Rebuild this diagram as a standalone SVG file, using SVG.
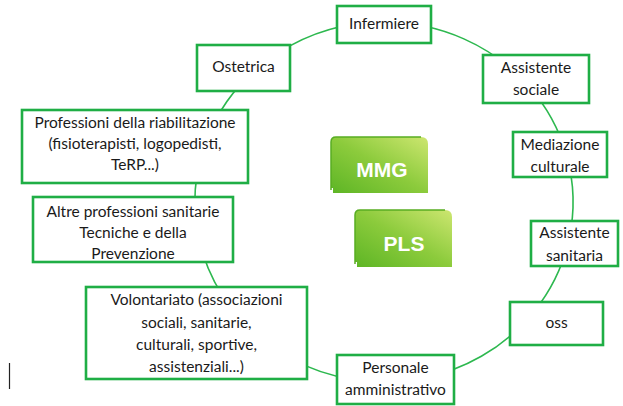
<svg xmlns="http://www.w3.org/2000/svg" width="623" height="406" viewBox="0 0 623 406">
<defs>
<linearGradient id="gg" x1="0" y1="1" x2="1" y2="0">
<stop offset="0" stop-color="#5db525"/>
<stop offset="0.5" stop-color="#8ccb3c"/>
<stop offset="1" stop-color="#cde670"/>
</linearGradient>
<style>
.box{fill:#fff;stroke:#1fae45;stroke-width:2.6}
.lbl{font-family:Lato,"Liberation Sans",sans-serif;font-size:15.5px;fill:#1a1a1a;text-anchor:middle}
.arc{fill:none;stroke:#2db84f;stroke-width:1.6}
.gbox{fill:url(#gg)}
.gedge{fill:none;stroke:#58ad22;stroke-width:1.5}
.glbl{font-family:"Liberation Sans",Arial,sans-serif;font-weight:bold;font-size:21px;fill:#fff;text-anchor:middle}
</style>
</defs>
<rect width="623" height="406" fill="#fff"/>
<g id="connectors">
<path class="arc" d="M384 22 A189 180 0 0 1 528.8 86.3"/>
<path class="arc" d="M528.8 86.3 A189 180 0 0 1 566.6 155.4"/>
<path class="arc" d="M566.6 155.4 A189 180 0 0 1 568.9 239.4"/>
<path class="arc" d="M568.9 239.4 A189 180 0 0 1 528.8 317.7"/>
<path class="arc" d="M528.8 317.7 A189 180 0 0 1 423.3 378.1"/>
<path class="arc" d="M423.3 378.1 A189 180 0 0 1 289.5 357.9"/>
<path class="arc" d="M289.5 357.9 A189 180 0 0 1 199.1 239.4"/>
<path class="arc" d="M199.1 239.4 A189 180 0 0 1 206.4 140.4"/>
<path class="arc" d="M206.4 140.4 A189 180 0 0 1 278.3 52.8"/>
<path class="arc" d="M278.3 52.8 A189 180 0 0 1 384 22"/>
</g>
<g id="infermiere"><rect class="box" x="337" y="6" width="94" height="37"/><text class="lbl" x="384" y="29">Infermiere</text></g>
<g id="assistente-sociale"><rect class="box" x="483" y="55" width="106" height="48"/><text class="lbl" x="536" y="73">Assistente</text><text class="lbl" x="536" y="95">sociale</text></g>
<g id="mediazione"><rect class="box" x="513" y="132" width="94" height="45"/><text class="lbl" x="560" y="150">Mediazione</text><text class="lbl" x="560" y="172">culturale</text></g>
<g id="assistente-sanitaria"><rect class="box" x="531" y="221" width="87" height="45"/><text class="lbl" x="574.5" y="238">Assistente</text><text class="lbl" x="574.5" y="261">sanitaria</text></g>
<g id="oss"><rect class="box" x="510" y="302" width="93" height="43"/><text class="lbl" x="556.5" y="328">oss</text></g>
<g id="personale"><rect class="box" x="337" y="355" width="117" height="49"/><text class="lbl" x="395.5" y="373">Personale</text><text class="lbl" x="395.5" y="395">amministrativo</text></g>
<g id="volontariato"><rect class="box" x="86" y="287" width="221" height="92"/><text class="lbl" x="196.5" y="305">Volontariato (associazioni</text><text class="lbl" x="196.5" y="328">sociali, sanitarie,</text><text class="lbl" x="196.5" y="350">culturali, sportive,</text><text class="lbl" x="196.5" y="372">assistenziali...)</text></g>
<g id="altre"><rect class="box" x="33" y="197" width="200" height="65"/><text class="lbl" x="133" y="217">Altre professioni sanitarie</text><text class="lbl" x="133" y="238">Tecniche e della</text><text class="lbl" x="133" y="259">Prevenzione</text></g>
<g id="professioni"><rect class="box" x="22" y="110" width="226" height="73"/><text class="lbl" x="135" y="128">Professioni della riabilitazione</text><text class="lbl" x="135" y="149">(fisioterapisti, logopedisti,</text><text class="lbl" x="135" y="170">TeRP...)</text></g>
<g id="ostetrica"><rect class="box" x="197" y="45" width="93" height="46"/><text class="lbl" x="243.5" y="72">Ostetrica</text></g>
<g id="mmg"><path class="gbox" d="M333 137 H421 Q428 137 428 144 V193 H333 V188 H331 V142 Q331 137 336 137 Z"/><path class="gedge" d="M331 190 V142 Q331 137 336 137 H421"/><text class="glbl" x="382" y="177">MMG</text></g>
<g id="pls"><path class="gbox" d="M357 210 H445 Q452 210 452 217 V267 H357 V262 H355 V215 Q355 210 360 210 Z"/><path class="gedge" d="M355 264 V215 Q355 210 360 210 H445"/><text class="glbl" x="404" y="251">PLS</text></g>
<line x1="9.5" y1="363" x2="9.5" y2="389" stroke="#222" stroke-width="1.2"/>
</svg>
